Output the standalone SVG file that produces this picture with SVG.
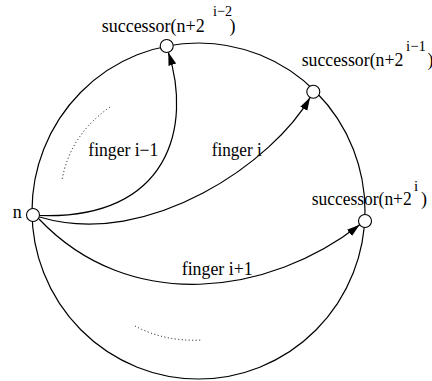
<svg xmlns="http://www.w3.org/2000/svg" width="432" height="381" viewBox="0 0 432 381">
<defs>
<marker id="arr" markerWidth="14" markerHeight="10" refX="13" refY="4" orient="auto" markerUnits="userSpaceOnUse"><path d="M0,0 L13,4 L0,8 z" fill="#000"/></marker>
<style>
text{font-family:"Liberation Serif","Times New Roman",serif;font-size:18px;fill:#000}
.sup{font-size:15px}
.edge{fill:none;stroke:#000;stroke-width:1.2;marker-end:url(#arr)}
.node{fill:#fff;stroke:#000;stroke-width:1.1}
.dot{fill:none;stroke:#000;stroke-width:1;stroke-dasharray:1 2.5}
</style>
</defs>
<ellipse id="ring" cx="198.5" cy="211" rx="166.5" ry="168" fill="none" stroke="#000" stroke-width="1.2"/>
<path class="dot" d="M110,107 Q70,135 62,180"/>
<path class="dot" d="M135,326 Q165,342 202,340"/>
<g id="connectors">
<path class="edge" d="M39.5,215.5 C170,220 192,125 168.3,52.3"/>
<path class="edge" d="M39.5,217 C150,250 275,160 310.1,97.4"/>
<path class="edge" d="M39,219 C130,315 270,295 359.7,224.8"/>
</g>
<g id="node-n"><circle class="node" cx="33" cy="215" r="6.5"/><text x="12.7" y="218.3">n</text></g>
<g id="node-s2"><circle class="node" cx="166.7" cy="46" r="6.5"/><text x="101.7" y="31.7" textLength="103" lengthAdjust="spacingAndGlyphs">successor(n+2</text><text class="sup" x="213" y="16" textLength="19" lengthAdjust="spacingAndGlyphs">i−2</text><text x="229.5" y="31.7">)</text></g>
<g id="node-s1"><circle class="node" cx="313.3" cy="91.7" r="6.5"/><text x="301.7" y="66" textLength="101.6" lengthAdjust="spacingAndGlyphs">successor(n+2</text><text class="sup" x="406" y="51" textLength="20" lengthAdjust="spacingAndGlyphs">i−1</text><text x="427.5" y="66">)</text></g>
<g id="node-s0"><circle class="node" cx="365" cy="221" r="6.5"/><text x="311.7" y="205" textLength="100" lengthAdjust="spacingAndGlyphs">successor(n+2</text><text class="sup" x="414" y="191">i</text><text x="421" y="205">)</text></g>
<g id="labels">
<text x="88.3" y="155.7" textLength="70" lengthAdjust="spacingAndGlyphs">finger i−1</text>
<text x="211.7" y="155.7" textLength="50" lengthAdjust="spacingAndGlyphs">finger i</text>
<text x="181.7" y="275" textLength="71" lengthAdjust="spacingAndGlyphs">finger i+1</text>
</g>
</svg>
